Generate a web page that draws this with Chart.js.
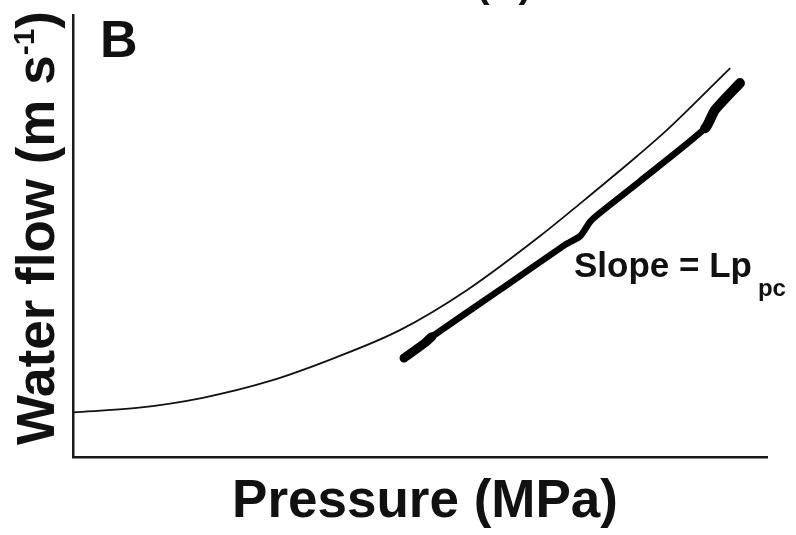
<!DOCTYPE html>
<html>
<head>
<meta charset="utf-8">
<script src="https://cdn.jsdelivr.net/npm/chart.js@4.4.0/dist/chart.umd.min.js"></script>
<style>
    body { margin: 0; background: #fff; }
</style>
</head>
<body>
<canvas id="myChart" width="796" height="535"></canvas>
<script>
// modelled curve (thin line)
const pressureCurve = [0, 9.2, 18.7, 28.4, 38.0, 47.1, 56.8, 67.3, 73.5, 81.3, 85.6, 94.7];
const flowCurve = [10.1, 11.1, 13.4, 17.2, 22.6, 28.7, 37.8, 50.0, 57.9, 68.1, 74.0, 88.0];

// measured trace (thick line)
const pressureTrace = [47.7, 50.7, 51.7, 61.5, 70.9, 73.1, 74.5, 75.9, 81.7, 91.1, 92.5, 96.1];
const flowTrace = [22.4, 25.8, 27.2, 37.8, 48.0, 50.0, 53.2, 55.2, 62.4, 74.4, 78.5, 84.6];

const panelLetter = "B";
const topCut = "(A)";
const xTitle = "Pressure (MPa)";
const yTitle = ["Water flow (m s", "-1", ")"];
const slopeText = ["Slope = Lp", "pc"];

const toPoints = (xs, ys) => xs.map((x, i) => ({ x: x, y: ys[i] }))

const FONT = '"Liberation Sans", Arial, sans-serif'

const textPlugin = {
    id: "textPlugin",
    afterDraw(chart) {
        const c = chart.ctx
        c.save()
        c.fillStyle = "#111"
        c.textBaseline = "alphabetic"

        c.textAlign = "left"
        c.font = "bold 52px " + FONT
        c.fillText(panelLetter, 100, 57)

        c.textAlign = "center"
        c.font = "bold 40px " + FONT
        c.fillText(topCut, 504, -3)

        c.font = "bold 53px " + FONT
        c.fillText(xTitle, 425, 517)

        // slope label with subscript
        c.textAlign = "left"
        c.font = "bold 35px " + FONT
        c.fillText(slopeText[0], 574, 277)
        const w = c.measureText(slopeText[0]).width
        c.font = "bold 24px " + FONT
        c.fillText(slopeText[1], 574 + w + 6, 296)

        // rotated y title with superscript
        c.translate(54, 228)
        c.rotate(-Math.PI / 2)
        c.font = "bold 53px " + FONT
        const w1 = c.measureText(yTitle[0]).width
        const w3 = c.measureText(yTitle[2]).width
        c.font = "bold 30px " + FONT
        const w2 = c.measureText(yTitle[1]).width
        let x = -(w1 + w2 + w3) / 2
        c.font = "bold 53px " + FONT
        c.fillText(yTitle[0], x, 0)
        x += w1
        c.font = "bold 30px " + FONT
        c.fillText(yTitle[1], x, -20)
        x += w2
        c.font = "bold 53px " + FONT
        c.fillText(yTitle[2], x, 0)
        c.restore()
    }
}

const axisOpts = (min, max) => ({
    type: "linear",
    min: min,
    max: max,
    ticks: { display: false },
    grid: { display: false, drawTicks: false },
    border: { display: true, color: "#1a1a1a", width: 2.5 }
})

const ctx = document.getElementById("myChart").getContext("2d");
const myChart = new Chart(ctx, {
    type: "line",
    data: {
        datasets: [{
            data: toPoints(pressureCurve, flowCurve),
            borderColor: "#111",
            borderWidth: 1.8,
            pointRadius: 0,
            cubicInterpolationMode: "monotone",
            fill: false
        }, {
            data: toPoints(pressureTrace, flowTrace),
            borderColor: "#000",
            borderWidth: 6.5,
            borderCapStyle: "round",
            borderJoinStyle: "round",
            pointRadius: 0,
            tension: 0.2,
            fill: false,
            segment: {
                borderWidth: (s) => (s.p0DataIndex <= 1 ? 9 : s.p0DataIndex >= 9 ? 10 : 6.5)
            }
        }]
    },
    options: {
        responsive: false,
        animation: false,
        layout: { padding: { left: 73, right: 29, top: 15, bottom: 78 } },
        scales: {
            x: axisOpts(0, 100),
            y: axisOpts(0, 100)
        },
        plugins: {
            legend: { display: false },
            tooltip: { enabled: false }
        }
    },
    plugins: [textPlugin]
});
</script>
</body>
</html>
